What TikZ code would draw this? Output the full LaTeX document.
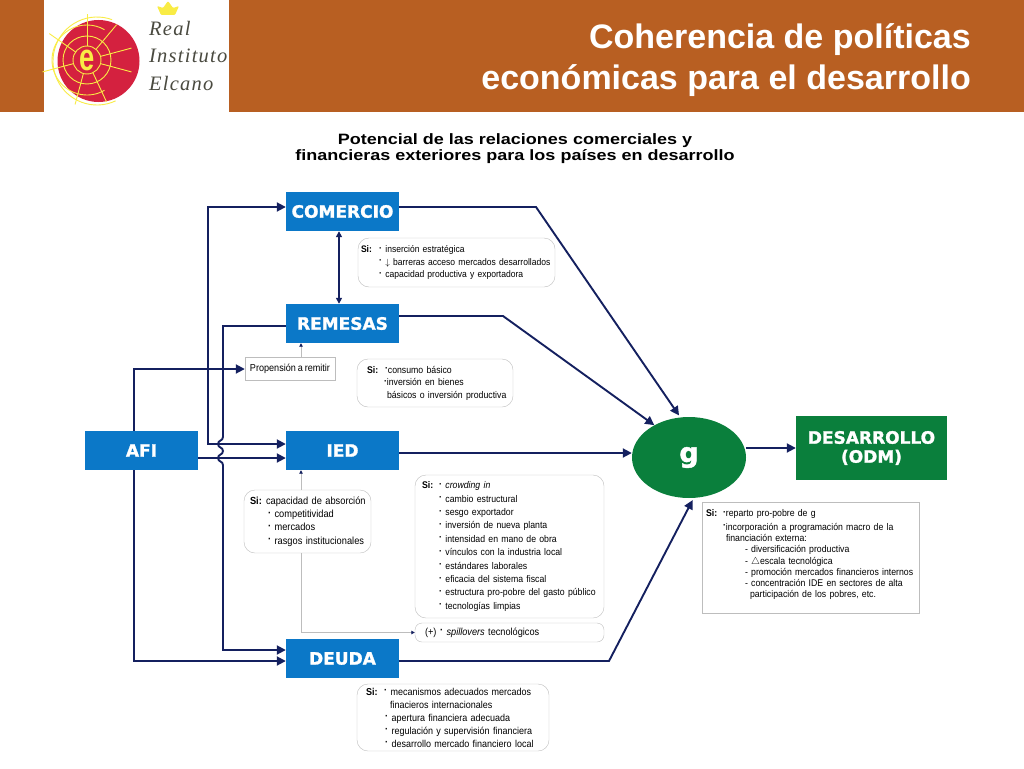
\documentclass[tikz,border=0pt]{standalone}
\usepackage{fontspec}
\setmainfont[FakeStretch=0.9,WordSpace=0.75]{Liberation Sans}
\newfontfamily\titlefont{Liberation Sans}
\newfontfamily\widefont[FakeStretch=1.2]{Liberation Sans}
\newfontfamily\narrowfont[FakeStretch=0.72]{Liberation Sans}
\newfontfamily\heavyfont[BoldFeatures={FakeBold=1.5}]{DejaVu Sans}
\newfontfamily\logofont[LetterSpace=6]{Liberation Serif}
\usetikzlibrary{arrows.meta,shapes.geometric}
\definecolor{bandcolor}{HTML}{B85F22}
\definecolor{bluebox}{HTML}{0B78C8}
\definecolor{greenbox}{HTML}{0A7F3C}
\definecolor{navyline}{HTML}{14205F}
\definecolor{greyline}{HTML}{BDBDBD}
\definecolor{logored}{HTML}{D4213F}
\definecolor{logoyel}{HTML}{F9EC45}
\definecolor{logotext}{HTML}{4A4A40}
\newcommand\bulc{\raisebox{1.5pt}{\textbf{·}}}
\newcommand\bul{\bulc\hspace{3.5pt}}
\newcommand\ind[1]{\hspace*{#1pt}}
\newcommand\si[2]{\ind{#1}\makebox[#2pt][l]{\textbf{Si:}}}
\tikzset{
  bluenode/.style={fill=bluebox,text=white,minimum width=113pt,minimum height=39pt,inner sep=0pt,font=\heavyfont\bfseries\fontsize{17}{19}\selectfont},
  sibox/.style={draw=greyline,fill=white,rounded corners=11pt,align=left,inner xsep=3pt,inner ysep=0pt,font=\fontsize{9.7}{13.4}\selectfont},
  logotxt/.style={anchor=west,inner sep=0pt,text=logotext,font=\logofont\itshape\fontsize{20.5}{20.5}\selectfont},
  mainline/.style={draw=navyline,line width=1.9pt},
  mainarrow/.style={mainline,-{Triangle[length=9pt,width=9pt]}},
  greyarrow/.style={draw=greyline,line width=1pt,-{Triangle[length=3.5pt,width=3.5pt,color=navyline]}}
}
\begin{document}
\begin{tikzpicture}[x=1pt,y=-1pt]
  \useasboundingbox (0,0) rectangle (1024,768);
  % header
  \fill[bandcolor] (0,0) rectangle (1024,112);
  \fill[white] (44,0) rectangle (229,112);
  \fill[logored] (98.5,61) circle (41);
  \begin{scope}[draw=logoyel,line width=0.9pt]
    \draw (87,60) circle (14);
    \draw (87,60) circle (24);
    \draw (87,60) ++(60:35) arc[start angle=60,end angle=300,radius=35];
    \draw (97,61) ++(65:44) arc[start angle=65,end angle=290,radius=44];
    \foreach \a in {15,65,105,165,215,270,310,345} {
      \draw (87,60) ++(\a:14) -- ++(\a:32);
    }
  \end{scope}
  \node[text=logoyel,inner sep=0pt,font=\narrowfont\bfseries\fontsize{38}{38}\selectfont] (logoe) at (87,60) {e};
  \fill[logoyel,rounded corners=1pt] (161,15) -- (157,6) -- (163,8) -- (168,1) -- (173,8) -- (179,6) -- (175,15) -- cycle;
  \node[logotxt] (logoa) at (149,28) {Real};
  \node[logotxt] (logob) at (149,56) {Instituto};
  \node[logotxt] (logoc) at (149,83) {Elcano};
  \node[anchor=east,align=right,inner sep=0pt,text=white,font=\titlefont\bfseries\fontsize{34}{41}\selectfont] (title) at (971,60) {Coherencia de políticas\\económicas para el desarrollo};
  \node[align=center,inner sep=0pt,font=\widefont\bfseries\fontsize{15}{16}\selectfont] (subtitle) at (515,149) {Potencial de las relaciones comerciales y\\financieras exteriores para los países en desarrollo};
  % boxes
  \node[bluenode] (comercio) at (342.5,211.5) {COMERCIO};
  \node[bluenode] (remesas) at (342.5,323.5) {REMESAS};
  \node[bluenode] (ied) at (342.5,450.5) {IED};
  \node[bluenode] (deuda) at (342.5,658.5) {DEUDA};
  \node[bluenode] (afi) at (141.5,450.5) {AFI};
  \node[ellipse,fill=greenbox,text=white,minimum width=114pt,minimum height=81pt,inner sep=0pt,font=\heavyfont\bfseries\fontsize{27}{27}\selectfont] (g) at (689,457.5) {g};
  \node[fill=greenbox,text=white,minimum width=151pt,minimum height=64pt,inner sep=0pt,align=center,font=\heavyfont\bfseries\fontsize{17}{19}\selectfont] (desarrollo) at (871.5,448) {DESARROLLO\\(ODM)};
  \node[draw=greyline,fill=white,minimum width=90pt,minimum height=23pt,inner sep=0pt,font=\fontsize{10.1}{12}\selectfont] (propension) at (290,369) {Propensión a remitir};
  % conditions
  \node[sibox,text width=191pt,minimum height=49pt,font=\fontsize{9.5}{12.5}\selectfont] (sicomercio) at (456.5,262.5) {\si{0}{18}\bul inserción estratégica\\\ind{18}\bul $\downarrow$ barreras acceso mercados desarrollados\\\ind{18}\bul capacidad productiva y exportadora};
  \node[sibox,text width=150pt,minimum height=48pt,font=\fontsize{9.7}{12.5}\selectfont] (siremesas) at (435,383) {\si{7}{18}\bulc consumo básico\\\ind{24}\bulc inversión en bienes\\\ind{27}básicos o inversión productiva};
  \node[sibox,text width=121pt,minimum height=63pt,font=\fontsize{10.3}{13.4}\selectfont] (siabsorcion) at (307.5,521.5) {\si{3}{16}capacidad de absorción\\\ind{21}\bul competitividad\\\ind{21}\bul mercados\\\ind{21}\bul rasgos institucionales};
  \node[sibox,text width=183pt,minimum height=143pt] (siied) at (509.5,546.5) {\si{4}{17}\bul \textit{crowding in}\\\ind{21}\bul cambio estructural\\\ind{21}\bul sesgo exportador\\\ind{21}\bul inversión de nueva planta\\\ind{21}\bul intensidad en mano de obra\\\ind{21}\bul vínculos con la industria local\\\ind{21}\bul estándares laborales\\\ind{21}\bul eficacia del sistema fiscal\\\ind{21}\bul estructura pro-pobre del gasto público\\\ind{21}\bul tecnologías limpias};
  \node[sibox,text width=183pt,minimum height=19pt,rounded corners=7pt,font=\fontsize{10.2}{13.4}\selectfont] (spillover) at (509.5,632.5) {\ind{7}\makebox[15pt][l]{(+)}\bul \textit{spillovers} tecnológicos};
  \node[sibox,text width=186pt,minimum height=67pt,font=\fontsize{10}{13}\selectfont] (sideuda) at (453,717.5) {\si{6}{18}\bul mecanismos adecuados mercados\\\ind{30}finacieros internacionales\\\ind{25}\bul apertura financiera adecuada\\\ind{25}\bul regulación y supervisión financiera\\\ind{25}\bul desarrollo mercado financiero local};
  \node[sibox,rounded corners=0pt,text width=211pt,minimum height=111pt,font=\fontsize{9.7}{11.3}\selectfont] (sig) at (810.5,557.5) {\si{1}{17}\bulc reparto pro-pobre de g\\[2pt]\ind{18}\bulc incorporación a programación macro de la\\\ind{21}financiación externa:\\\ind{40}- diversificación productiva\\\ind{40}- $\triangle$escala tecnológica\\\ind{40}- promoción mercados financieros internos\\\ind{40}- concentración IDE en sectores de alta\\\ind{45}participación de los pobres, etc.\\[-4pt]\mbox{}};
  % connectors
  \coordinate (railtop) at (208,207);
  \coordinate (railbot) at (208,444);
  \coordinate (comerciobend) at (536,207);
  \coordinate (remesasbend) at (503,316);
  \coordinate (deudabend) at (609,661);
  \coordinate (iedout) at ([yshift=-2.5pt]ied.east);
  \draw[mainline,{Triangle[length=9pt,width=9pt]}-{Triangle[length=9pt,width=9pt]}] ([yshift=4.5pt]comercio.west) -- (railtop) -- (railbot) -- ([yshift=6.5pt]ied.west);
  \draw[mainarrow] ([yshift=-2.5pt]remesas.west) -| (223,437)
    .. controls (223,441) and (218,440) .. (218,444)
    .. controls (218,448) and (223,447) .. (223,451)
    .. controls (223,455) and (218,454) .. (218,458)
    .. controls (218,462) and (223,461) .. (223,465)
    |- ([yshift=8.5pt]deuda.west);
  \draw[mainarrow] ([xshift=-7.5pt]afi.north) |- (propension.west);
  \draw[mainarrow] ([xshift=-7.5pt]afi.south) |- ([yshift=-2.5pt]deuda.west);
  \draw[mainarrow] ([yshift=-7.5pt]afi.east) -- ([yshift=-7.5pt]ied.west);
  \draw[mainline,{Triangle[length=6pt,width=6pt]}-{Triangle[length=6pt,width=6pt]}] ([xshift=-3.5pt]comercio.south) -- ([xshift=-3.5pt]remesas.north);
  \draw[mainarrow] ([yshift=4.5pt]comercio.east) -- (comerciobend) -- ([yshift=2pt]g.104);
  \draw[mainarrow] ([yshift=7.5pt]remesas.east) -- (remesasbend) -- (g.137);
  \draw[mainarrow] (iedout) -- (iedout -| g.west);
  \draw[mainarrow] ([yshift=-2.5pt]deuda.east) -- (deudabend) -- ([yshift=-2pt]g.-85);
  \draw[mainarrow] (g.east |- desarrollo.west) -- (desarrollo.west);
  \draw[greyarrow] ([xshift=11pt]propension.north) -- ([xshift=-41.5pt]remesas.south);
  \draw[greyarrow] ([xshift=-6.5pt]siabsorcion.north) -- ([xshift=-41.5pt]ied.south);
  \draw[greyarrow] ([xshift=-6.5pt]siabsorcion.south) |- (spillover.west);
\end{tikzpicture}
\end{document}
